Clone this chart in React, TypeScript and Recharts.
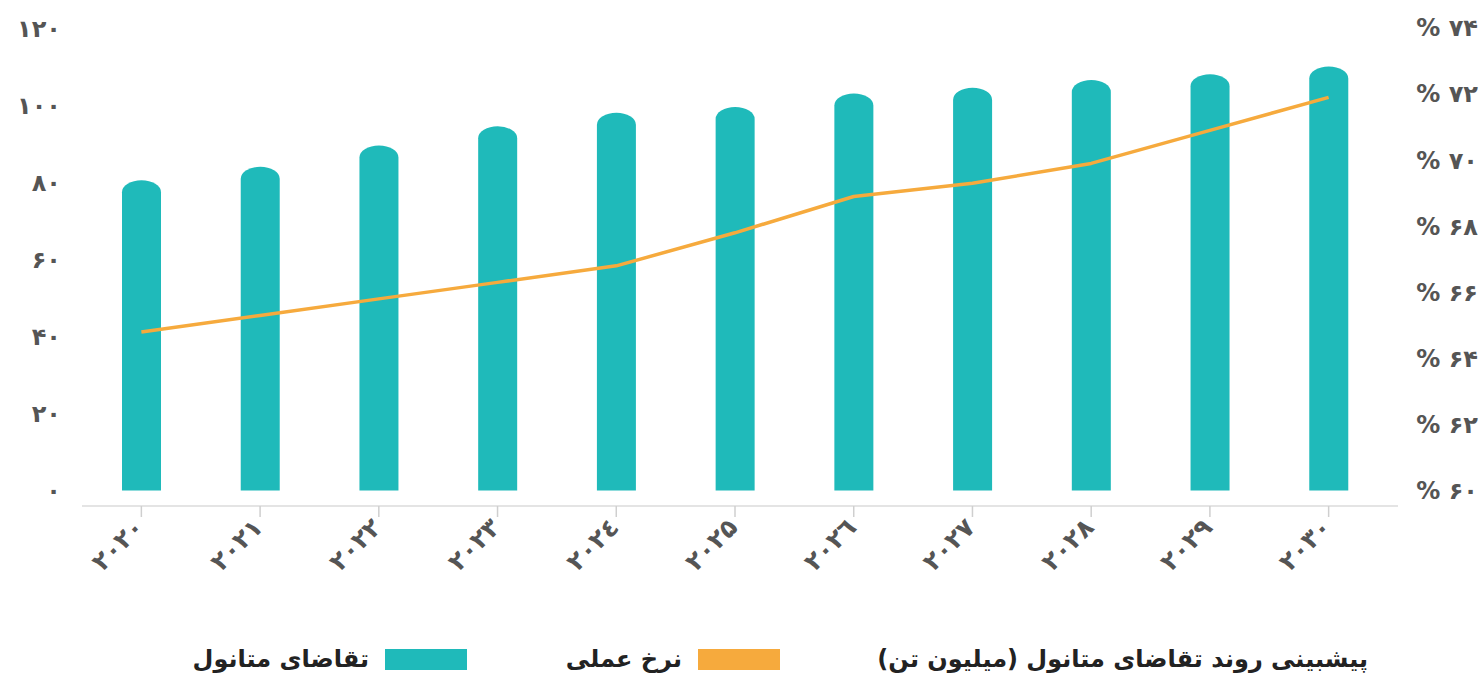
import { Bar, ComposedChart, Line, XAxis, YAxis } from 'recharts';

const YEARS = ['۲۰۲۰', '۲۰۲۱', '۲۰۲۲', '۲۰۲۳', '۲۰۲٤', '۲۰۲۵', '۲۰۲٦', '۲۰۲۷', '۲۰۲۸', '۲۰۲۹', '۲۰۳۰'];
const DEMAND = [80.5, 84, 89.5, 94.5, 98, 99.5, 103, 104.5, 106.5, 108, 110];
const RATE = [64.8, 65.3, 65.8, 66.3, 66.8, 67.8, 68.9, 69.3, 69.9, 70.9, 71.9];
const LEFT_TICKS = [0, 20, 40, 60, 80, 100, 120];
const RIGHT_TICKS = [60, 62, 64, 66, 68, 70, 72, 74];

const TITLE = 'پیشبینی روند تقاضای متانول (میلیون تن)';
const DEMAND_LABEL = 'تقاضای متانول';
const RATE_LABEL = 'نرخ عملی';

const TEAL = '#1fbaba';
const ORANGE = '#f6aa3d';
const FONT = '"DejaVu Sans", sans-serif';

const data = YEARS.map((year, i) => ({ year, demand: DEMAND[i], rate: RATE[i] }));

const toFa = (v: number | string) => String(v).replace(/\d/g, (d) => '۰۱۲۳۴۵۶۷۸۹'[Number(d)]);

// rounded (elliptical) bar top
const CapBar = (props: any) => {
  const { x, y, width, height, fill } = props;
  if (!height || height <= 0) return null;
  const rx = width / 2;
  const ry = Math.min(12, height);
  const d = `M${x},${y + height} L${x},${y + ry} A${rx},${ry} 0 0 1 ${x + width},${y + ry} L${x + width},${y + height} Z`;
  return <path d={d} fill={fill} />;
};

const YearTick = (props: any) => {
  const { x, y, payload } = props;
  return (
    <g transform={`translate(${x + 4},${y + 6})`}>
      <text
        textAnchor="end"
        transform="rotate(-45)"
        fill="#555"
        fontSize={25}
        fontFamily={FONT}
        fontWeight={600}
      >
        {payload.value}
      </text>
    </g>
  );
};

const RightTick = (props: any) => {
  const { x, y, payload } = props;
  return (
    <text x={x + 80} y={y} dy="0.35em" textAnchor="end" fill="#555" fontSize={24} fontFamily={FONT} fontWeight={600}>
      {`% ${toFa(payload.value)}`}
    </text>
  );
};

const legendText: React.CSSProperties = {
  fontFamily: FONT,
  fontWeight: 700,
  fontSize: 24,
  color: '#222',
  whiteSpace: 'nowrap',
};

export default function App() {
  return (
    <div style={{ position: 'absolute', left: 0, top: 0, width: 1484, height: 681, background: '#fff' }}>
      <ComposedChart width={1484} height={681} data={data} margin={{ top: 28, right: 0, left: 0, bottom: 75 }}>
        <XAxis
          dataKey="year"
          height={100}
          padding={{ left: 0, right: 10 }}
          axisLine={{ stroke: '#e4e4e4', strokeWidth: 2 }}
          tickLine={{ stroke: '#cfcfcf', strokeWidth: 1.5 }}
          tickSize={11}
          tickMargin={6}
          interval={0}
          tick={<YearTick />}
        />
        <YAxis
          yAxisId="left"
          width={82}
          domain={[-4, 120]}
          ticks={LEFT_TICKS}
          allowDataOverflow
          axisLine={false}
          tickLine={false}
          tickSize={0}
          tickMargin={21}
          tickFormatter={(v) => toFa(v)}
          tick={{ fill: '#555', fontSize: 24, fontFamily: FONT, fontWeight: 600 }}
        />
        <YAxis
          yAxisId="right"
          orientation="right"
          width={86}
          domain={[59.53, 74]}
          ticks={RIGHT_TICKS}
          allowDataOverflow
          axisLine={false}
          tickLine={false}
          tickSize={0}
          tickMargin={0}
          tick={<RightTick />}
        />
        <Bar yAxisId="left" dataKey="demand" fill={TEAL} barSize={39} shape={<CapBar />} isAnimationActive={false} />
        <Line
          yAxisId="right"
          dataKey="rate"
          type="linear"
          stroke={ORANGE}
          strokeWidth={3.5}
          strokeLinejoin="round"
          dot={false}
          activeDot={false}
          isAnimationActive={false}
        />
      </ComposedChart>

      {/* legend row, right to left */}
      <div style={{ position: 'absolute', top: 645, right: 116, ...legendText }}>{TITLE}</div>
      <div style={{ position: 'absolute', top: 645, right: 704, display: 'flex', direction: 'rtl', alignItems: 'center', gap: 16 }}>
        <span style={{ width: 82, height: 21, background: ORANGE, display: 'inline-block' }} />
        <span style={legendText}>{RATE_LABEL}</span>
      </div>
      <div style={{ position: 'absolute', top: 645, right: 1017, display: 'flex', direction: 'rtl', alignItems: 'center', gap: 16 }}>
        <span style={{ width: 82, height: 21, background: TEAL, display: 'inline-block' }} />
        <span style={legendText}>{DEMAND_LABEL}</span>
      </div>
    </div>
  );
}
